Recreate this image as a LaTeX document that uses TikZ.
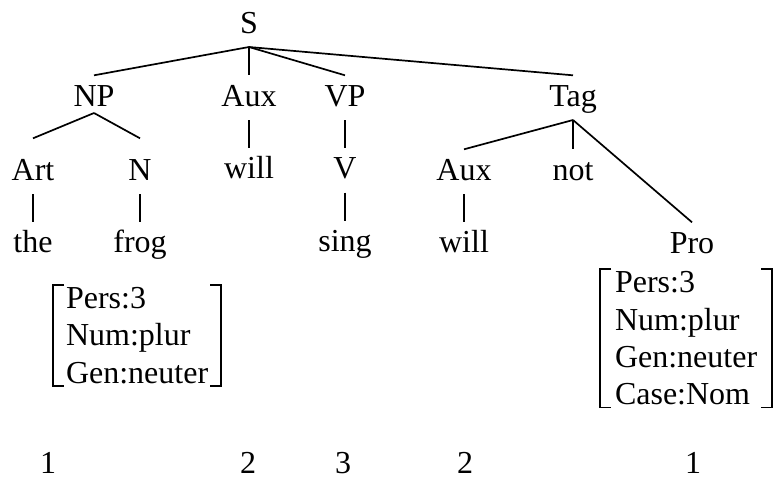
\documentclass[tikz,border=0pt]{standalone}
\usepackage{fontspec}
\setmainfont{Liberation Serif}
\usepackage{tikz}
\usetikzlibrary{positioning}

\begin{document}
\begin{tikzpicture}[
    x=0.5pt,y=-0.5pt,
    font=\fontsize{16}{18.6}\selectfont,
    node distance=14pt,
    cat/.style={anchor=base,inner xsep=0pt,inner ysep=4.5pt,outer sep=0pt,text height=10.85pt,text depth=2.5pt},
    feat/.style={anchor=north west,align=left,inner xsep=6.5pt,inner ysep=1.3pt,outer sep=0pt},
    num/.style={anchor=base,inner sep=0pt},
    branch/.style={line width=0.85pt},
    bracket/.style={line width=0.8pt}
]
\useasboundingbox (0,0) rectangle (775,478);

% top
\node[cat] (S) at (249,33) {S};
\node[cat] (NP) at (94,106) {NP};
\node[cat] (Aux) at (249,106) {Aux};
\node[cat] (VP) at (345,106) {VP};
\node[cat] (Tag) at (573,106) {Tag};

% NP
\node[cat] (Art) at (33,180) {Art};
\node[cat] (N) at (140,180) {N};
\node[cat,below=of Art] (the) {the};
\node[cat,below=of N] (frog) {frog};

% Aux, VP
\node[cat,below=of Aux] (will) {will};
\node[cat,below=of VP] (V) {V};
\node[cat,below=of V] (sing) {sing};

% Tag
\node[cat] (Aux2) at (464,180) {Aux};
\node[cat] (not) at (573,180) {not};
\node[cat,below=of Aux2] (will2) {will};
\node[cat] (Pro) at (692,253) {Pro};

\draw[branch] (S.south) -- (NP.north);
\draw[branch] (S.south) -- (Aux.north);
\draw[branch] (S.south) -- (VP.north);
\draw[branch] (S.south) -- (Tag.north);
\draw[branch] ([yshift=3.5pt]NP.south) -- ([yshift=5.5pt]Art.north);
\draw[branch] ([yshift=3.5pt]NP.south) -- ([yshift=5.5pt]N.north);
\draw[branch] (Art.south) -- (the.north);
\draw[branch] (N.south) -- (frog.north);
\draw[branch] (Aux.south) -- (will.north);
\draw[branch] (VP.south) -- (V.north);
\draw[branch] (V.south) -- (sing.north);
\draw[branch] (Tag.south) -- (Aux2.north);
\draw[branch] (Tag.south) -- (not.north);
\draw[branch] (Tag.south) -- (Pro.north);
\draw[branch] (Aux2.south) -- (will2.north);

% feature matrices
\node[feat] (fa) at (53,285) {Pers:3\\Num:plur\\Gen:neuter};
\node[feat,inner xsep=7.5pt] (fb) at (600,269) {Pers:3\\Num:plur\\Gen:neuter\\Case:Nom};
\draw[bracket] ([xshift=5.5pt]fa.north west) -- (fa.north west) -- (fa.south west) -- ([xshift=5.5pt]fa.south west);
\draw[bracket] ([xshift=-5.5pt]fa.north east) -- (fa.north east) -- (fa.south east) -- ([xshift=-5.5pt]fa.south east);
\draw[bracket] ([xshift=5.5pt]fb.north west) -- (fb.north west) -- (fb.south west) -- ([xshift=5.5pt]fb.south west);
\draw[bracket] ([xshift=-5.5pt]fb.north east) -- (fb.north east) -- (fb.south east) -- ([xshift=-5.5pt]fb.south east);

% numbers
\node[num] (n1) at (48,473) {1};
\node[num] (n2) at (248,473) {2};
\node[num] (n3) at (343,473) {3};
\node[num] (n4) at (465,473) {2};
\node[num] (n5) at (693,473) {1};
\end{tikzpicture}
\end{document}
